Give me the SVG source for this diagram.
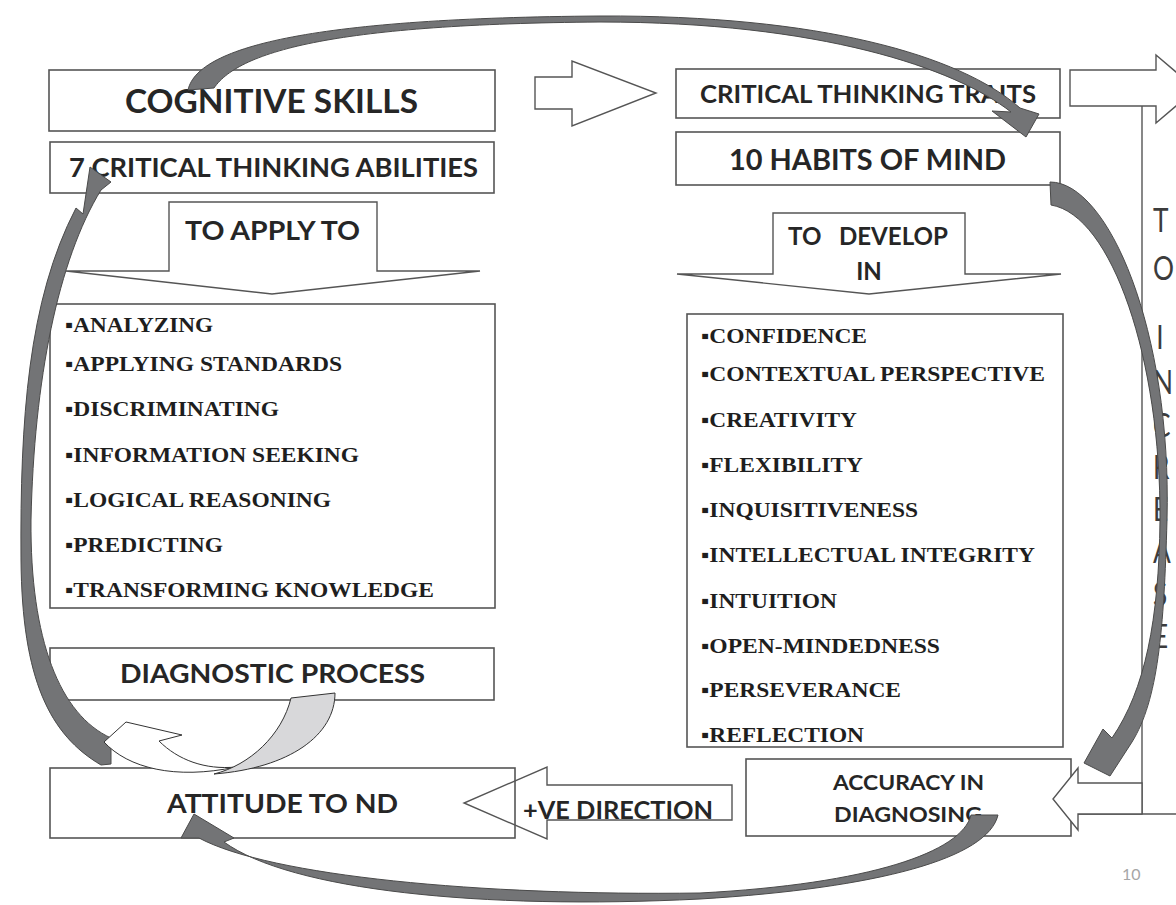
<svg xmlns="http://www.w3.org/2000/svg" width="1176" height="905" viewBox="0 0 1176 905">
<defs>
<style>
.box{fill:#fff;stroke:#555;stroke-width:1.6}
.arw{fill:#fff;stroke:#555;stroke-width:1.4}
.hd{font-family:Lato,"Open Sans","Liberation Sans",sans-serif;font-weight:700;fill:#262626}
.li{font-family:"Liberation Serif","Times New Roman",serif;font-weight:700;fill:#1e1e1e;font-size:21px}
.vt{font-family:Lato,"Liberation Sans",sans-serif;font-weight:400;fill:#3c3c3c;font-size:32px}
.con{fill:#737476;stroke:#4a4a4a;stroke-width:1}
.lt{fill:#d8d8da;stroke:#333;stroke-width:1}
.wh{fill:#fff;stroke:#333;stroke-width:1}
</style>
</defs>
<rect width="1176" height="905" fill="#fff"/>

<g id="cognitive-skills">
<rect class="box" x="49" y="70" width="446" height="61"/>
<text class="hd" x="125" y="113" font-size="33" textLength="293" lengthAdjust="spacingAndGlyphs">COGNITIVE SKILLS</text>
</g>
<g id="abilities">
<rect class="box" x="50" y="142" width="444" height="51"/>
<text class="hd" x="69" y="177" font-size="26" textLength="409" lengthAdjust="spacingAndGlyphs">7 CRITICAL THINKING ABILITIES</text>
</g>
<g id="apply-to">
<polygon class="arw" points="169,202 377,202 377,271 480,271 272,294 66,271 169,271"/>
<text class="hd" x="185" y="240" font-size="27" textLength="175" lengthAdjust="spacingAndGlyphs">TO APPLY TO</text>
</g>
<g id="abilities-list">
<rect class="box" x="50" y="304" width="445" height="304"/>
<text class="li" x="65" y="332" textLength="148" lengthAdjust="spacingAndGlyphs">▪ANALYZING</text>
<text class="li" x="65" y="371" textLength="277" lengthAdjust="spacingAndGlyphs">▪APPLYING STANDARDS</text>
<text class="li" x="65" y="416" textLength="214" lengthAdjust="spacingAndGlyphs">▪DISCRIMINATING</text>
<text class="li" x="65" y="462" textLength="294" lengthAdjust="spacingAndGlyphs">▪INFORMATION SEEKING</text>
<text class="li" x="65" y="507" textLength="266" lengthAdjust="spacingAndGlyphs">▪LOGICAL REASONING</text>
<text class="li" x="65" y="552" textLength="158" lengthAdjust="spacingAndGlyphs">▪PREDICTING</text>
<text class="li" x="65" y="597" textLength="369" lengthAdjust="spacingAndGlyphs">▪TRANSFORMING KNOWLEDGE</text>
</g>
<g id="diagnostic-process">
<rect class="box" x="50" y="648" width="444" height="52"/>
<text class="hd" x="120" y="683" font-size="26" textLength="305" lengthAdjust="spacingAndGlyphs">DIAGNOSTIC PROCESS</text>
</g>
<g id="attitude">
<rect class="box" x="50" y="768" width="465" height="70"/>
<text class="hd" x="167" y="813" font-size="26" textLength="231" lengthAdjust="spacingAndGlyphs">ATTITUDE TO ND</text>
</g>
<g id="ve-direction">
<polygon points="732,785 547,785 547,767 464,803 547,839 547,820 732,820 732,785" fill="none" stroke="#555" stroke-width="1.4"/>
<text class="hd" x="523" y="819" font-size="24" textLength="190" lengthAdjust="spacingAndGlyphs">+VE DIRECTION</text>
</g>
<g id="arrow-right-small">
<polygon class="arw" points="535,77 572,77 572,61 656,93 572,126 572,109 535,109"/>
</g>
<g id="traits">
<rect class="box" x="676" y="69" width="384" height="49"/>
<text class="hd" x="700" y="103" font-size="25" textLength="336" lengthAdjust="spacingAndGlyphs">CRITICAL THINKING TRAITS</text>
</g>
<g id="habits">
<rect class="box" x="676" y="132" width="384" height="53"/>
<text class="hd" x="729" y="170" font-size="29" textLength="277" lengthAdjust="spacingAndGlyphs">10 HABITS OF MIND</text>
</g>
<g id="develop-in">
<polygon class="arw" points="773,213 965,213 965,274 1061,274 869,294 677,274 773,274"/>
<text class="hd" x="788" y="245" font-size="24" textLength="160" lengthAdjust="spacingAndGlyphs" style="white-space:pre">TO   DEVELOP</text>
<text class="hd" x="869" y="280" font-size="24" text-anchor="middle">IN</text>
</g>
<g id="habits-list">
<rect class="box" x="687" y="314" width="376" height="433"/>
<text class="li" x="701" y="343" textLength="166" lengthAdjust="spacingAndGlyphs">▪CONFIDENCE</text>
<text class="li" x="701" y="381" textLength="344" lengthAdjust="spacingAndGlyphs">▪CONTEXTUAL PERSPECTIVE</text>
<text class="li" x="701" y="427" textLength="156" lengthAdjust="spacingAndGlyphs">▪CREATIVITY</text>
<text class="li" x="701" y="472" textLength="162" lengthAdjust="spacingAndGlyphs">▪FLEXIBILITY</text>
<text class="li" x="701" y="517" textLength="217" lengthAdjust="spacingAndGlyphs">▪INQUISITIVENESS</text>
<text class="li" x="701" y="562" textLength="334" lengthAdjust="spacingAndGlyphs">▪INTELLECTUAL INTEGRITY</text>
<text class="li" x="701" y="608" textLength="136" lengthAdjust="spacingAndGlyphs">▪INTUITION</text>
<text class="li" x="701" y="653" textLength="239" lengthAdjust="spacingAndGlyphs">▪OPEN-MINDEDNESS</text>
<text class="li" x="701" y="697" textLength="200" lengthAdjust="spacingAndGlyphs">▪PERSEVERANCE</text>
<text class="li" x="701" y="742" textLength="163" lengthAdjust="spacingAndGlyphs">▪REFLECTION</text>
</g>
<g id="to-increase">
<path d="M1070,70 L1156,70 L1156,55 L1196,89 L1156,123 L1156,106 L1070,106 Z" class="arw"/>
<line x1="1142" y1="106" x2="1142" y2="814" stroke="#555" stroke-width="1.4"/>
<line x1="1078" y1="814" x2="1176" y2="814" stroke="#555" stroke-width="1.4"/>
<g transform="translate(1153,0) scale(0.82,1)">
<text class="vt">
<tspan x="0" y="232">T</tspan>
<tspan x="0" y="280">O</tspan>
<tspan x="4" y="349">I</tspan>
<tspan x="0" y="394">N</tspan>
<tspan x="0" y="437">C</tspan>
<tspan x="0" y="479">R</tspan>
<tspan x="0" y="521">E</tspan>
<tspan x="0" y="563">A</tspan>
<tspan x="0" y="606">S</tspan>
<tspan x="0" y="648">E</tspan>
</text>
</g>
</g>
<g id="accuracy">
<rect class="box" x="746" y="759" width="325" height="77"/>
<path d="M1142,783 L1078,783 L1078,768 L1053,799 L1078,830 L1078,814 L1142,814 Z" class="arw"/>
<text class="hd" x="833" y="790" font-size="21" textLength="151" lengthAdjust="spacingAndGlyphs">ACCURACY IN</text>
<text class="hd" x="834" y="822" font-size="21" textLength="148" lengthAdjust="spacingAndGlyphs">DIAGNOSING</text>
</g>
<g id="page-number">
<text x="1122" y="880" font-family="Lato,'Liberation Sans',sans-serif" font-size="16" fill="#a6a6a6">10</text>
</g>

<g id="connectors">
<path class="con" d="M188,90 C198,45 320,18 600,16 C820,15 960,55 1020,108 L1039,114 L1026,137 L992,111 L1011,112 C955,68 820,22 600,22 C340,24 240,50 214,88 Z"/>
<path class="con" d="M1050,182 C1108,182 1172,330 1167,520 C1164,630 1158,700 1132,742 L1110,776 L1084,763 L1103,729 L1112,738 C1145,690 1159,620 1160,520 C1161,360 1112,215 1051,205 Z"/>
<path class="con" d="M998,815 C988,858 880,888 700,899 C480,910 290,890 224,842 L234,838 L194,814 L181,838 L199,838 C270,876 480,896 700,893 C870,884 962,852 971,815 Z"/>
<path class="con" d="M101,765 C50,735 22,680 21,560 C20,420 28,300 76,208 L83,214 L90,167 L111,182 L101,190 C58,260 34,380 31,520 C30,640 60,715 111,738 L111,764 Z"/>
<path class="wh" d="M159,741 L182,735 L126,722 L104,742 C128,768 175,780 236,767 C205,770 178,760 159,741 Z"/>
<path class="lt" d="M291,698 L335,693 C335,735 290,768 214,774 C250,765 282,735 291,698 Z"/>
</g>
</svg>
